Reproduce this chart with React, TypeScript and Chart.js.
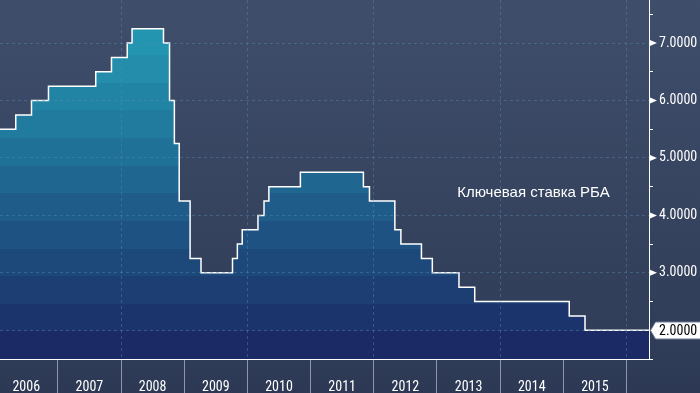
import { useEffect, useRef } from 'react';
import { Chart, registerables } from 'chart.js';

Chart.register(...registerables);

// RBA cash rate: date of each change and the new rate
const changeDates = [
  '2006-01-01', '2006-05-03', '2006-08-02', '2006-11-08', '2007-08-08', '2007-11-07',
  '2008-02-06', '2008-03-05', '2008-09-03', '2008-10-08', '2008-11-05', '2008-12-03',
  '2009-02-04', '2009-04-08', '2009-10-07', '2009-11-04', '2009-12-02', '2010-03-03',
  '2010-04-07', '2010-05-05', '2010-11-03', '2011-11-02', '2011-12-07', '2012-05-02',
  '2012-06-06', '2012-10-03', '2012-12-05', '2013-05-08', '2013-08-07', '2015-02-04',
  '2015-05-06', '2016-05-10',
];
const cashRates = [
  5.5, 5.75, 6.0, 6.25, 6.5, 6.75,
  7.0, 7.25, 7.0, 6.0, 5.25, 4.25,
  3.25, 3.0, 3.25, 3.5, 3.75, 4.0,
  4.25, 4.5, 4.75, 4.5, 4.25, 3.75,
  3.5, 3.25, 3.0, 2.75, 2.5, 2.25,
  2.0, 2.0,
];
const yearTicks = [2007, 2008, 2009, 2010, 2011, 2012, 2013, 2014, 2015, 2016];
const yearLabels = ['2006', '2007', '2008', '2009', '2010', '2011', '2012', '2013', '2014', '2015'];
const rateTicks = [1.5, 2, 2.5, 3, 3.5, 4, 4.5, 5, 5.5, 6, 6.5, 7, 7.5];
const lastValueLabel = '2.0000';
const seriesTitle = 'Ключевая ставка РБА';
const rangeStart = '2006-02-01';
const rangeEnd = '2016-05-10';

function toYear(s: string): number {
  const [y, m, d] = s.split('-').map(Number);
  const start = Date.UTC(y, 0, 1);
  const end = Date.UTC(y + 1, 0, 1);
  return y + (Date.UTC(y, m - 1, d) - start) / (end - start);
}

const NARROW = "'Roboto Condensed', 'DejaVu Sans Condensed', sans-serif";
const GRID = 'rgba(90,140,180,0.42)';

function hexToRgb(h: string) {
  const n = parseInt(h.slice(1), 16);
  return [(n >> 16) & 255, (n >> 8) & 255, n & 255];
}

export default function App() {
  const ref = useRef<HTMLCanvasElement>(null);

  useEffect(() => {
    const canvas = ref.current!;
    const xMin = toYear(rangeStart);
    const xMax = toYear(rangeEnd);
    const points = changeDates.map((d, i) => ({ x: toYear(d), y: cashRates[i] }));
    const lastRate = cashRates[cashRates.length - 1];
    const halfYearPx = 649 / (xMax - xMin) / 2;

    const anchors: [number, string][] = [
      [0.0, '#279fb9'],
      [0.08, '#2599b3'],
      [0.3, '#2181a3'],
      [0.55, '#1f608b'],
      [0.78, '#1d4276'],
      [1.0, '#1b2460'],
    ];
    const colorAt = (t: number) => {
      for (let i = 1; i < anchors.length; i++) {
        if (t <= anchors[i][0]) {
          const [t0, c0] = anchors[i - 1];
          const [t1, c1] = anchors[i];
          const f = (t - t0) / (t1 - t0);
          const a = hexToRgb(c0), b = hexToRgb(c1);
          return `rgb(${a.map((v, k) => Math.round(v + (b[k] - v) * f)).join(',')})`;
        }
      }
      return anchors[anchors.length - 1][1];
    };

    const fillStyle = (ctx: any) => {
      const chart = ctx.chart;
      const area = chart.chartArea;
      if (!area) return '#1f5f8b';
      const g = chart.ctx.createLinearGradient(0, area.top, 0, area.bottom);
      const N = 13;
      for (let i = 0; i < N; i++) {
        const c = colorAt((i + 0.5) / N);
        g.addColorStop(i / N, c);
        g.addColorStop((i + 1) / N - 0.0001, c);
      }
      return g;
    };

    const bgPlugin = {
      id: 'bg',
      beforeDraw(chart: any) {
        const { ctx, width, height } = chart;
        const g = ctx.createLinearGradient(0, 0, 0, height);
        g.addColorStop(0, '#3f4e6b');
        g.addColorStop(0.915, '#2f3c57');
        g.addColorStop(1, '#2d3954');
        ctx.save();
        ctx.fillStyle = g;
        ctx.fillRect(0, 0, width, height);
        ctx.restore();
      },
    };

    const decoPlugin = {
      id: 'deco',
      afterDraw(chart: any) {
        const { ctx } = chart;
        const ys = chart.scales.y;
        const xs = chart.scales.x;
        const ax = ys.left;
        ctx.save();
        ctx.fillStyle = '#ffffff';
        rateTicks.forEach((v) => {
          if (Number.isInteger(v) && v !== lastRate) {
            const py = ys.getPixelForValue(v);
            ctx.beginPath();
            ctx.moveTo(ax + 1, py - 3);
            ctx.lineTo(ax + 8, py);
            ctx.lineTo(ax + 1, py + 3);
            ctx.closePath();
            ctx.fill();
          }
        });
        const py = Math.round(ys.getPixelForValue(lastRate)) + 0.5;
        ctx.beginPath();
        ctx.moveTo(ax + 1.5, py);
        ctx.lineTo(ax + 6.5, py - 8.5);
        ctx.lineTo(chart.width + 2, py - 8.5);
        ctx.lineTo(chart.width + 2, py + 8.5);
        ctx.lineTo(ax + 6.5, py + 8.5);
        ctx.closePath();
        ctx.fillStyle = '#ffffff';
        ctx.fill();
        ctx.strokeStyle = '#6f7a90';
        ctx.lineWidth = 1;
        ctx.stroke();
        ctx.fillStyle = '#000000';
        ctx.font = `14px ${NARROW}`;
        ctx.textBaseline = 'middle';
        ctx.textAlign = 'left';
        ctx.fillText(lastValueLabel, ax + 10, py + 0.5);

        ctx.fillStyle = '#ffffff';
        ctx.font = "15px 'Liberation Sans', Arial, sans-serif";
        ctx.fillText(seriesTitle, xs.getPixelForValue(2013.32), ys.getPixelForValue(4.39));
        ctx.restore();
      },
    };

    const chart = new Chart(canvas, {
      type: 'line',
      data: {
        datasets: [
          {
            data: points,
            stepped: true,
            borderColor: '#ffffff',
            borderWidth: 1.5,
            pointRadius: 0,
            fill: 'start',
            backgroundColor: fillStyle,
          } as any,
        ],
      },
      options: {
        animation: false,
        responsive: false,
        maintainAspectRatio: false,
        layout: { padding: 0 },
        plugins: { legend: { display: false }, tooltip: { enabled: false } },
        scales: {
          x: {
            type: 'linear',
            min: xMin,
            max: xMax,
            afterBuildTicks: (s: any) => {
              s.ticks = yearTicks.map((v) => ({ value: v }));
            },
            afterFit: (s: any) => {
              s.height = 34;
              s.paddingLeft = 0;
              s.paddingRight = 0;
            },
            grid: {
              z: 1,
              color: (c: any) => (c.tick && c.tick.value % 2 === 0 ? GRID : 'rgba(0,0,0,0)'),
              lineWidth: 1,
              tickLength: 34,
              tickColor: '#8e97aa',
              tickWidth: 1,
              tickBorderDash: [],
            },
            border: { z: 2, color: '#ffffff', width: 1, dash: [3, 3] },
            ticks: {
              z: 2,
              color: '#ffffff',
              font: { family: NARROW, size: 14 },
              padding: -14,
              labelOffset: -halfYearPx,
              maxRotation: 0,
              autoSkip: false,
              callback: (_v: any, i: number) => yearLabels[i],
            },
          } as any,
          y: {
            type: 'linear',
            position: 'right',
            min: 1.5,
            max: 7.75,
            afterBuildTicks: (s: any) => {
              s.ticks = rateTicks.map((v) => ({ value: v }));
            },
            afterFit: (s: any) => {
              s.width = 51;
              s.paddingTop = 0;
              s.paddingBottom = 0;
            },
            grid: {
              z: 1,
              color: (c: any) =>
                c.tick && Number.isInteger(c.tick.value) ? GRID : 'rgba(0,0,0,0)',
              lineWidth: 1,
              tickLength: 4,
              tickColor: (c: any) =>
                c.tick && !Number.isInteger(c.tick.value) ? '#ffffff' : 'rgba(0,0,0,0)',
              tickWidth: 1,
              tickBorderDash: [],
            },
            border: { z: 2, color: '#ffffff', width: 1, dash: [3, 3] },
            ticks: {
              z: 2,
              color: '#ffffff',
              font: { family: NARROW, size: 14 },
              padding: 6,
              autoSkip: false,
              callback: (v: any) =>
                Number.isInteger(v) && v !== lastRate ? Number(v).toFixed(4) : '',
            },
          } as any,
        },
      },
      plugins: [bgPlugin, decoPlugin],
    });

    return () => chart.destroy();
  }, []);

  return (
    <div style={{ position: 'fixed', left: 0, top: 0, width: 700, height: 393 }}>
      <canvas ref={ref} width={700} height={393} style={{ display: 'block', width: 700, height: 393 }} />
    </div>
  );
}
